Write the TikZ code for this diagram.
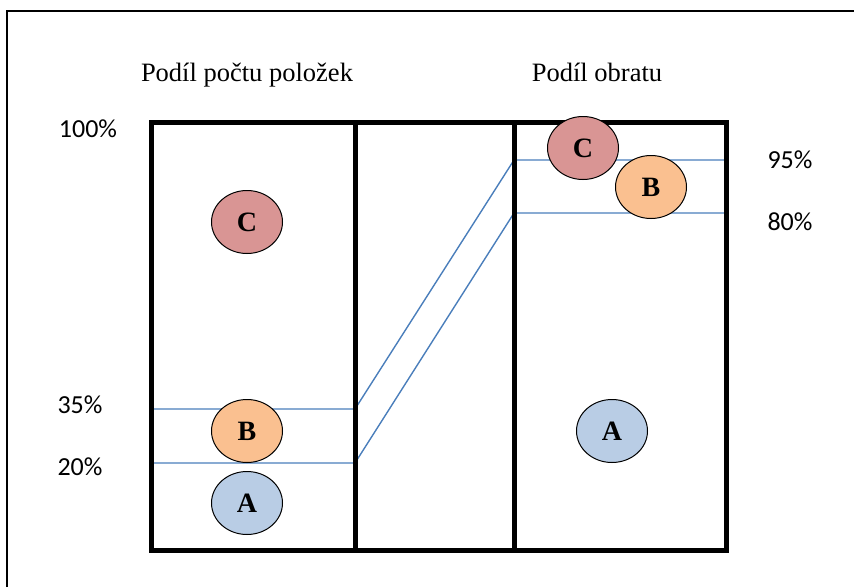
\documentclass[tikz,border=0pt]{standalone}
\usepackage{fontspec}
\setmainfont{Liberation Serif}
\newfontfamily\pctfont{Carlito}
\usetikzlibrary{shapes.geometric}
\definecolor{shareblue}{HTML}{4A7EBB}
\definecolor{fillC}{HTML}{D99594}
\definecolor{fillB}{HTML}{FAC090}
\definecolor{fillA}{HTML}{B9CDE5}
\tikzset{
  classdot/.style={ellipse, draw=black, line width=1pt, minimum width=71pt, minimum height=63pt,
    inner sep=0pt, font=\fontsize{28}{32}\selectfont\bfseries},
  pct/.style={anchor=base, inner sep=0pt, font=\pctfont\fontsize{26}{30}\selectfont},
  heading/.style={anchor=base, inner sep=0pt, font=\fontsize{26.5}{30}\selectfont},
  boxline/.style={line width=5pt, line cap=rect},
  shareline/.style={draw=shareblue, line width=1.4pt, line join=round}
}
\begin{document}
\begin{tikzpicture}[x=1pt, y=-1pt]
\useasboundingbox (0,0) rectangle (854,587);
% outer frame
\draw[line width=1.3pt] (7,587) -- (7,11) -- (854,11);

% column headings
\node[heading] (h1) at (247,81) {Podíl počtu položek};
\node[heading] (h2) at (597,81) {Podíl obratu};

% percentage labels
\node[pct] (p100) at (88,137) {100\%};
\node[pct] (p35) at (80,413) {35\%};
\node[pct] (p20) at (80,475) {20\%};
\node[pct] (p95) at (790,168) {95\%};
\node[pct] (p80) at (790,230) {80\%};

% breakpoints of the share lines
\coordinate (a1) at (151,409);
\coordinate (a2) at (355,409);
\coordinate (a3) at (514,160);
\coordinate (a4) at (726,160);
\coordinate (b1) at (151,463);
\coordinate (b2) at (355,463);
\coordinate (b3) at (514,213);
\coordinate (b4) at (726,213);

\draw[shareline] (a1) -- (a2) -- (a3) -- (a4);
\draw[shareline] (b1) -- (b2) -- (b3) -- (b4);

% classes by item count
\node[classdot, fill=fillC] (cL) at (247,222) {\raisebox{-4pt}{C}};
\node[classdot, fill=fillB] (bL) at (247,431) {\raisebox{-4pt}{B}};
\node[classdot, fill=fillA] (aL) at (247,503) {\raisebox{-4pt}{A}};

% classes by turnover
\node[classdot, fill=fillA] (aR) at (612,431) {\raisebox{-4pt}{A}};

% main box with dividers
\draw[boxline] (151,122) rectangle (726,550);
\draw[boxline] (355,122) -- (355,550);
\draw[boxline] (514,122) -- (514,550);

\node[classdot, fill=fillC] (cR) at (583,148) {\raisebox{-4pt}{C}};
\node[classdot, fill=fillB] (bR) at (651,187) {\raisebox{-4pt}{B}};
\end{tikzpicture}
\end{document}
